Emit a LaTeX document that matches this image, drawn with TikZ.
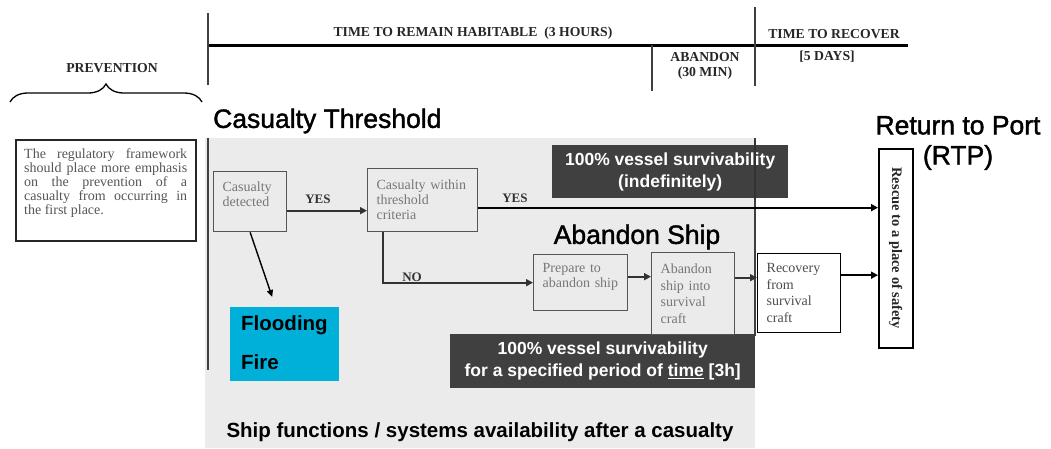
\documentclass[tikz,border=0pt]{standalone}
\usepackage{fontspec}
\setmainfont{Liberation Serif}
\newfontfamily\arialf{Liberation Sans}
\newfontfamily\arialheavy[FakeBold=1.5]{Liberation Sans}
\usetikzlibrary{arrows.meta,decorations.pathreplacing}
\definecolor{bggray}{HTML}{EBEBEB}
\definecolor{darkbox}{HTML}{404040}
\definecolor{cyanbox}{HTML}{00B0D8}
\definecolor{boxtext}{HTML}{777777}
\definecolor{prevtext}{HTML}{555555}
\definecolor{boxline}{HTML}{555555}
\begin{document}
\begin{tikzpicture}[x=1pt,y=-1pt,
  tl/.style={font=\fontsize{13.7}{15}\selectfont\bfseries, text=black!85, inner sep=0pt},
  fbox/.style={draw=boxline, line width=1.3pt, text=boxtext, font=\fontsize{14}{15}\selectfont, inner xsep=9pt, inner ysep=0pt, anchor=north west, align=left},
  bbox/.style={fbox, draw=black},
  arr/.style={line width=2.2pt, draw=black!80, -{Triangle[length=7pt,width=7pt]}},
  arrblk/.style={line width=2.2pt, draw=black, -{Triangle[length=7pt,width=7pt]}},
  lbl/.style={font=\fontsize{13}{14}\selectfont\bfseries, text=black!80, inner sep=0pt},
  head/.style={font=\arialheavy\fontsize{26.5}{30}\selectfont, inner sep=0pt},
  dbox/.style={fill=darkbox, text=white, font=\arialf\bfseries\fontsize{17.5}{22}\selectfont, align=center, inner sep=0pt, anchor=north west},
  tline/.style={line width=1.8pt, draw=black!75}
]
\useasboundingbox (0,0) rectangle (1051,448);
\fill[bggray] (205,138) rectangle (755,448);

% timeline
\draw[line width=3pt] (207,45) -- (908,45);
\draw[tline] (208,13) -- (208,85);
\draw[tline] (652,45) -- (652,91);
\draw[tline] (755,7) -- (755,86);
\node[tl] (t1) at (473,33) {TIME TO REMAIN HABITABLE\ \ (3 HOURS)};
\node[tl, align=center] (t2) at (705,66) {ABANDON\\(30 MIN)};
\node[tl] (t3) at (834,34) {TIME TO RECOVER};
\node[tl] (t4) at (827,57) {[5 DAYS]};
\node[tl] (t5) at (112,68) {PREVENTION};
\draw[line width=1.3pt, decorate, decoration={brace, amplitude=18pt}] (10,102) -- (202,102);

% prevention box
\node[draw=black!85, line width=1.6pt, anchor=north west, minimum width=180pt, minimum height=101pt, inner sep=0pt] (prev) at (15,139) {};
\node[anchor=north west, inner sep=0pt, text=prevtext, font=\fontsize{14}{14}\selectfont, align=left] (prevt) at (24,148)
  {\makebox[163pt][s]{The regulatory framework}\\
   \makebox[163pt][s]{should place more emphasis}\\
   \makebox[163pt][s]{on the prevention of a}\\
   \makebox[163pt][s]{casualty from occurring in}\\
   \makebox[163pt][l]{the first place.}};

% region lines
\draw[tline] (208,138) -- (208,370);
\draw[tline, line width=1.4pt] (755,138) -- (755,336);

% headings
\node[head, anchor=west] (ct) at (213,121) {Casualty Threshold};
\node[head] (as) at (637,237) {Abandon Ship};
\node[head, align=center] (rtp) at (958,143) {Return to Port\\(RTP)};

% dark boxes
\node[dbox, minimum width=236pt, minimum height=53pt] (d1) at (552,145) {100\% vessel survivability\\(indefinitely)};
\draw[line width=1.4pt, black!80] (755,140) -- (755,200);
\node[dbox, minimum width=305pt, minimum height=54pt] (d2) at (450,334) {100\% vessel survivability\\for a specified period of \underline{time} [3h]};

% flow boxes
\node[fbox, minimum width=73pt, minimum height=60pt, text width=55pt] (cd) at (213,171) {Casualty\\detected\\\mbox{}};
\node[fbox, minimum width=110pt, minimum height=63pt, text width=92pt] (thr) at (367,168) {\makebox[92pt][s]{Casualty within}\\threshold\\criteria};
\node[fbox, minimum width=94pt, minimum height=56pt, text width=76pt] (prep) at (533,254) {\makebox[76pt][s]{Prepare to}\\abandon ship\\\mbox{}};
\node[fbox, minimum width=83pt, minimum height=82pt, text width=65pt, font=\fontsize{14}{16.5}\selectfont] (ab) at (651,252) {Abandon\\\makebox[65pt][s]{ship into}\\survival\\craft};
\node[bbox, minimum width=83pt, minimum height=79pt, text width=65pt, text=black!70, font=\fontsize{14}{16.5}\selectfont] (rec) at (757,253) {Recovery\\from\\survival\\craft};
\node[draw=black, line width=1.5pt, anchor=north west, minimum width=34pt, minimum height=199pt, inner sep=0pt,
      font=\fontsize{14.5}{16}\selectfont\bfseries, text=black!85] (res) at (878,148) {\rotatebox{-90}{Rescue to a place of safety}};

% cyan box
\node[fill=cyanbox, anchor=north west, minimum width=109pt, minimum height=74pt, inner sep=0pt] (flood) at (230,307) {};
\node[font=\arialf\bfseries\fontsize{20.5}{22}\selectfont, anchor=west, inner sep=0pt] (fl1) at (241,325) {Flooding};
\node[font=\arialf\bfseries\fontsize{20.5}{22}\selectfont, anchor=west, inner sep=0pt] (fl2) at (241,362) {Fire};

% connectors
\draw[arr] ([yshift=-9pt]cd.east) -- ([yshift=-9pt]cd.east -| thr.west);
\node[lbl] (yes1) at (318,199) {YES};
\draw[arrblk] ([yshift=-7.5pt]thr.east) -- ([yshift=-7.5pt]thr.east -| res.west);
\node[lbl] (yes2) at (515,198) {YES};
\draw[arr] ([xshift=16pt]thr.south west) |- (prep.west);
\node[lbl] (no) at (412,277) {NO};
\draw[arr] ([yshift=6pt]prep.east) -- ([yshift=6pt]prep.east -| ab.west);
\draw[arr] ([yshift=16pt]ab.east) -- ([yshift=16pt]ab.east -| rec.west);
\draw[arrblk] ([yshift=18pt]rec.east) -- ([yshift=18pt]rec.east -| res.west);
\draw[line width=1.4pt, black, -{Triangle[length=7pt,width=6pt]}] (cd.south) -- ([xshift=-12.5pt,yshift=10pt]flood.north);

% bottom caption
\node[font=\arialf\bfseries\fontsize{20.5}{22}\selectfont, inner sep=0pt] (cap) at (480,432) {Ship functions / systems availability after a casualty};
\end{tikzpicture}
\end{document}
